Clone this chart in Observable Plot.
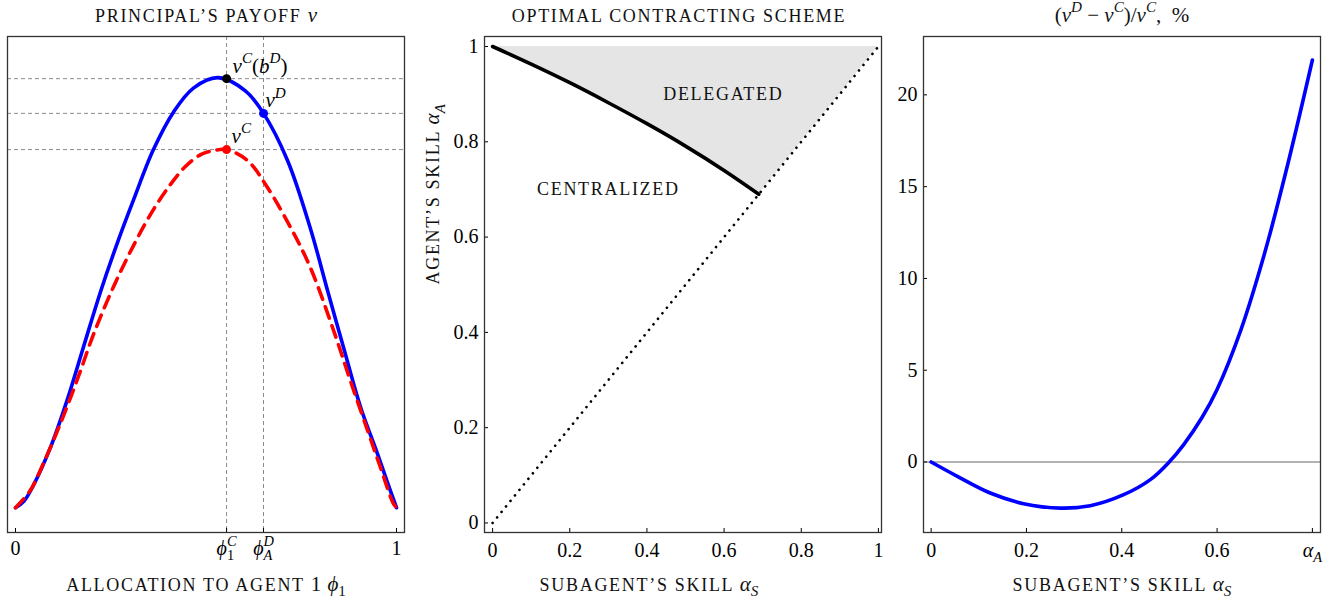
<!DOCTYPE html>
<html><head><meta charset="utf-8">
<script src="https://cdn.jsdelivr.net/npm/d3@7"></script>
<script src="https://cdn.jsdelivr.net/npm/@observablehq/plot@0.6"></script>
<style>
body{margin:0;background:#fff;}
#wrap{position:relative;width:1340px;height:601px;overflow:hidden;}
#wrap svg{position:absolute;top:0;}
</style></head><body><div id="wrap"></div>
<script>
// ---------- Panel 1: principal's payoff ----------
const blueX = [0, 0.022, 0.047, 0.092, 0.136, 0.178, 0.223, 0.266, 0.310, 0.362, 0.415, 0.467, 0.531, 0.604, 0.651, 0.714, 0.774, 0.819, 0.861, 0.906, 0.950, 0.979, 1.0];
const blueY = [0.050, 0.063, 0.095, 0.172, 0.268, 0.373, 0.485, 0.581, 0.671, 0.772, 0.848, 0.896, 0.917, 0.890, 0.845, 0.750, 0.613, 0.488, 0.373, 0.252, 0.159, 0.095, 0.050];
const redX = [0, 0.039, 0.073, 0.118, 0.163, 0.205, 0.257, 0.310, 0.362, 0.407, 0.446, 0.486, 0.520, 0.554, 0.609, 0.661, 0.722, 0.774, 0.835, 0.879, 0.924, 0.958, 0.992, 1.0];
const redY = [0.050, 0.085, 0.139, 0.220, 0.310, 0.400, 0.495, 0.579, 0.651, 0.702, 0.738, 0.762, 0.770, 0.772, 0.750, 0.696, 0.615, 0.534, 0.407, 0.306, 0.206, 0.131, 0.058, 0.050];
const phiC = 0.554, phiD = 0.651;
const vCbD = 0.915, vD = 0.845, vC = 0.772;
const ticks1 = [0, phiC, phiD, 1];
const tickLabels1 = ["0", "$ϕ_1^C$", "$ϕ_A^D$", "1"];

// ---------- Panel 2: optimal contracting scheme ----------
const boundaryX = [0, 0.1, 0.2, 0.3, 0.4, 0.5, 0.6, 0.69];
const boundaryY = [1.0, 0.963, 0.924, 0.882, 0.838, 0.791, 0.740, 0.690];
const diagonal = [0, 1];
const ticks2 = [0, 0.2, 0.4, 0.6, 0.8, 1];
const regionLabels = ["DELEGATED", "CENTRALIZED"];
const regionX = [0.598, 0.30];
const regionY = [0.899, 0.700];

// ---------- Panel 3: relative gain ----------
const gainX = [0, 0.055, 0.124, 0.194, 0.271, 0.334, 0.404, 0.460, 0.4995, 0.530, 0.569, 0.6, 0.65, 0.7, 0.75, 0.8];
const gainY = [0, -0.78, -1.69, -2.27, -2.51, -2.38, -1.78, -0.96, 0, 0.95, 2.45, 3.95, 7.2, 11.4, 16.4, 21.9];
const ticks3x = [0, 0.2, 0.4, 0.6, 0.8];
const tickLabels3x = ["0", "0.2", "0.4", "0.6", "$α_A$"];
const ticks3y = [0, 5, 10, 15, 20];

const FONT = "Liberation Serif";
const zip = (xs, ys) => xs.map((x, i) => ({x, y: ys[i]}));
const baseStyle = {fontFamily: FONT, fontSize: "20px", color: "#000", background: "transparent", overflow: "visible"};
const lbl = {fontSize: 18, fill: "#111"};
const fmt = d => String(d);

// Panel 1
const p1 = Plot.plot({
  width: 415, height: 601, marginLeft: 7, marginRight: 11, marginTop: 36, marginBottom: 69,
  x: {domain: [-0.021, 1.021], label: null},
  y: {domain: [0, 1], label: null, axis: null},
  style: baseStyle,
  marks: [
    Plot.ruleY([vCbD, vD, vC], {stroke: "#8a8a8a", strokeWidth: 1, strokeDasharray: "4,3"}),
    Plot.ruleX([phiC, phiD], {stroke: "#8a8a8a", strokeWidth: 1, strokeDasharray: "4,3"}),
    Plot.line(zip(blueX, blueY), {x: "x", y: "y", stroke: "#0000ff", strokeWidth: 3.6, curve: "catmull-rom"}),
    Plot.line(zip(redX, redY), {x: "x", y: "y", stroke: "#ff0000", strokeWidth: 3.6, strokeDasharray: "12,8", curve: "catmull-rom"}),
    Plot.dot([{x: phiC, y: vCbD}], {x: "x", y: "y", r: 4.5, fill: "#000"}),
    Plot.dot([{x: phiD, y: vD}], {x: "x", y: "y", r: 4.5, fill: "#0000ff"}),
    Plot.dot([{x: phiC, y: vC}], {x: "x", y: "y", r: 4.5, fill: "#ff0000"}),
    Plot.text([{x: phiC, y: vCbD}], {x: "x", y: "y", text: () => "$v^C(b^D)$", textAnchor: "start", lineAnchor: "bottom", dx: 6, dy: -6, fontSize: 21}),
    Plot.text([{x: phiD, y: vD}], {x: "x", y: "y", text: () => "$v^D$", textAnchor: "start", lineAnchor: "bottom", dx: 2, dy: -6, fontSize: 21}),
    Plot.text([{x: phiC, y: vC}], {x: "x", y: "y", text: () => "$v^C$", textAnchor: "start", lineAnchor: "bottom", dx: 5, dy: -7, fontSize: 21}),
    Plot.axisX({ticks: ticks1, tickFormat: d => tickLabels1[ticks1.indexOf(d)], tickSize: -4, tickPadding: 12, label: null}),
    Plot.frame({stroke: "#333", strokeWidth: 1.3}),
    Plot.text(["PRINCIPAL’S PAYOFF $v$"], {frameAnchor: "top", dy: -15, lineAnchor: "bottom", ...lbl}),
    Plot.text(["ALLOCATION TO AGENT $1$ $ϕ_1$"], {frameAnchor: "bottom", dy: 58, lineAnchor: "bottom", ...lbl})
  ]
});

// Panel 2
const fillData = zip(boundaryX, boundaryY).concat([{x: 1, y: 1}]);
const p2 = Plot.plot({
  width: 487, height: 601, marginLeft: 69, marginRight: 21, marginTop: 36, marginBottom: 69,
  x: {domain: [-0.021, 1.008], label: null},
  y: {domain: [-0.020, 1.021], label: null},
  style: baseStyle,
  marks: [
    Plot.areaY(fillData, {x: "x", y1: "y", y2: 1, fill: "#e5e5e5"}),
    Plot.line(zip(diagonal, diagonal), {x: "x", y: "y", stroke: "#000", strokeWidth: 2.6, strokeDasharray: "0.1,7", strokeLinecap: "round"}),
    Plot.line(zip(boundaryX, boundaryY), {x: "x", y: "y", stroke: "#000", strokeWidth: 3.6, curve: "catmull-rom"}),
    Plot.text(regionLabels, {x: (d, i) => regionX[i], y: (d, i) => regionY[i], text: d => d, ...lbl}),
    Plot.axisX({ticks: ticks2, tickFormat: fmt, tickSize: -4, tickPadding: 14, label: null}),
    Plot.axisY({ticks: ticks2, tickFormat: fmt, tickSize: -4, tickPadding: 10, label: null}),
    Plot.frame({stroke: "#333", strokeWidth: 1.3}),
    Plot.text(["OPTIMAL CONTRACTING SCHEME"], {frameAnchor: "top", dy: -15, dx: -4, lineAnchor: "bottom", ...lbl}),
    Plot.text(["SUBAGENT’S SKILL $α_S$"], {frameAnchor: "bottom", dy: 58, dx: -34, lineAnchor: "bottom", ...lbl}),
    Plot.text(["AGENT’S SKILL $α_A$"], {frameAnchor: "left", dx: -51, rotate: -90, ...lbl})
  ]
});

// Panel 3
const p3 = Plot.plot({
  width: 438, height: 601, marginLeft: 21, marginRight: 20, marginTop: 36, marginBottom: 69,
  x: {domain: [-0.016, 0.817], label: null},
  y: {domain: [-3.84, 23.18], label: null},
  style: baseStyle,
  marks: [
    Plot.ruleY([0], {stroke: "#9a9a9a", strokeWidth: 1.5}),
    Plot.line(zip(gainX, gainY), {x: "x", y: "y", stroke: "#0000ff", strokeWidth: 3.6, curve: "catmull-rom"}),
    Plot.axisX({ticks: ticks3x, tickFormat: d => tickLabels3x[ticks3x.indexOf(d)], tickSize: -4, tickPadding: 14, label: null}),
    Plot.axisY({ticks: ticks3y, tickFormat: fmt, tickSize: -4, tickPadding: 10, label: null}),
    Plot.frame({stroke: "#333", strokeWidth: 1.3}),
    Plot.text(["$(v^D − v^C)/v^C$,\u2002%"], {frameAnchor: "top", dy: -15, lineAnchor: "bottom", fontSize: 21, fill: "#111"}),
    Plot.text(["SUBAGENT’S SKILL $α_S$"], {frameAnchor: "bottom", dy: 58, lineAnchor: "bottom", ...lbl})
  ]
});

const wrap = document.getElementById("wrap");
[[p1, 0], [p2, 415], [p3, 902]].forEach(([svg, left]) => {
  svg.style.left = left + "px";
  wrap.appendChild(svg);
  richify(svg);
});

function richify(svg) {
  const NS = "http://www.w3.org/2000/svg";
  d3.select(svg).selectAll("text").each(function () {
    const el = this;
    const s = el.textContent;
    const caps = /[A-Z]{3}/.test(s.replace(/\$[^$]*\$/g, ""));
    if (caps) el.style.letterSpacing = "1.7px";
    if (!s.includes("$")) return;
    const fs = parseFloat(getComputedStyle(el).fontSize) || 18;
    const mfs = fs < 20 ? 21 : fs;
    while (el.firstChild) el.removeChild(el.firstChild);
    let shift = 0, prev = null;
    const add = (txt, math, level) => {
      const t = document.createElementNS(NS, "tspan");
      t.textContent = txt;
      if (math) {
        t.style.letterSpacing = "0px";
        if (/[A-Za-zα-ωϕφ]/.test(txt)) t.style.fontStyle = "italic";
      }
      let size = math ? mfs : fs;
      let target = 0;
      if (level !== 0) { size = mfs * 0.72; target = level > 0 ? -0.45 * mfs : 0.25 * mfs; }
      t.style.fontSize = size + "px";
      const dy = target - shift;
      if (Math.abs(dy) > 0.01) t.setAttribute("dy", dy.toFixed(2));
      shift = target;
      if (prev && level !== 0 && prev.level !== 0 && prev.level !== level) {
        t.setAttribute("dx", (-prev.node.getComputedTextLength()).toFixed(2));
      }
      el.appendChild(t);
      prev = {node: t, level};
    };
    s.split("$").forEach((part, i) => {
      if (i % 2 === 0) { if (part) add(part, false, 0); return; }
      let j = 0;
      while (j < part.length) {
        const c = part[j];
        if (c === "^" || c === "_") {
          j++;
          let tok;
          if (part[j] === "{") { const k = part.indexOf("}", j); tok = part.slice(j + 1, k); j = k + 1; }
          else { tok = part[j]; j++; }
          add(tok, true, c === "^" ? 1 : -1);
        } else { add(c, true, 0); j++; }
      }
    });
  });
}
</script></body></html>
